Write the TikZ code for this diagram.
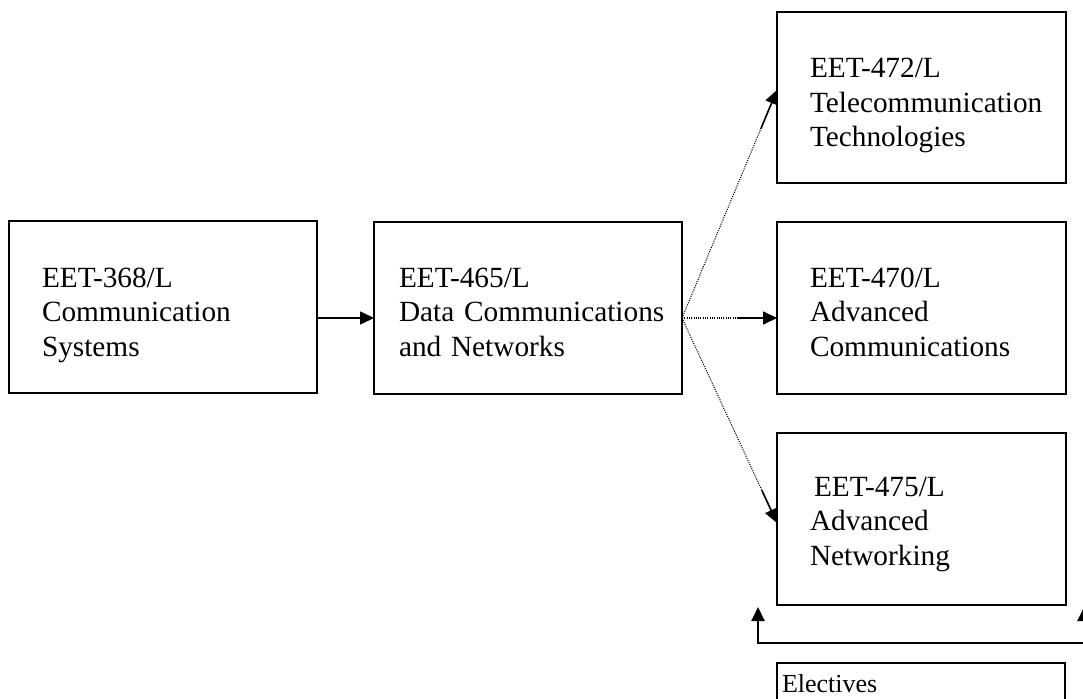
\documentclass[tikz,border=0pt]{standalone}
\usepackage{fontspec}
\setmainfont{Liberation Serif}
\usetikzlibrary{arrows.meta}
\hfuzz=60pt

\begin{document}
\begin{tikzpicture}[x=1pt,y=-1pt,
  >={Triangle[length=14pt,width=13pt]},
  course/.style={draw,line width=1.5pt,anchor=north west,inner sep=0pt,outer sep=0pt,
    align=left,text height=65pt,text depth=107pt,
    font=\fontsize{29.3}{34.5}\selectfont},
  link/.style={line width=1.6pt,->},
  hint/.style={line width=1.1pt,dash pattern=on 1pt off 1.3pt},
]
  \useasboundingbox (0,0) rectangle (1083,698);
  \clip (0,0) rectangle (1083,698);

  % courses
  \node[course,minimum width=308pt,text width=242pt,text height=66pt,text depth=106pt] (b368) at (9,221)
    {EET-368/L\\Communication\\Systems};
  \node[course,minimum width=308pt,text width=258pt] (b465) at (374,222)
    {EET-465/L\\\mbox{Data Communications}\\and Networks};
  \node[course,minimum width=289pt,text width=223pt,text height=66pt,text depth=105pt] (b472) at (777,12)
    {EET-472/L\\Telecommunication\\Technologies};
  \node[course,minimum width=289pt,text width=223pt] (b470) at (777,222)
    {EET-470/L\\Advanced\\Communications};
  \node[course,minimum width=289pt,text width=223pt,text height=63pt,text depth=109pt] (b475) at (777,433)
    {\hspace*{4pt}EET-475/L\\Advanced\\Networking};
  \node[course,minimum width=288pt,text width=278pt,text height=29pt,text depth=60pt,
    font=\fontsize{26}{31}\selectfont] (elec) at (777,663) {Electives};

  \coordinate (hub) at ([yshift=-10pt]b465.east);
  \draw[link] (b368.east |- hub) -- (b465.west |- hub);

  % dotted fan, solid last part
  \foreach \dest/\dy/\cut in {b472/7.5/205,b470/-10/56,b475/-4/190}{
    \draw[hint] (hub) -- ([yshift=\dy pt]\dest.west);
    \draw[link,shorten <=\cut pt] (hub) -- ([yshift=\dy pt]\dest.west);
  }

  % electives bracket
  \coordinate (elecL) at (758,643);
  \coordinate (elecR) at (1084,643);
  \draw[line width=2pt,<->,shorten <=2pt,shorten >=2pt]
    (b475.south -| elecL) -- (elecL) -- (elecR) -- (b475.south -| elecR);
\end{tikzpicture}
\end{document}
